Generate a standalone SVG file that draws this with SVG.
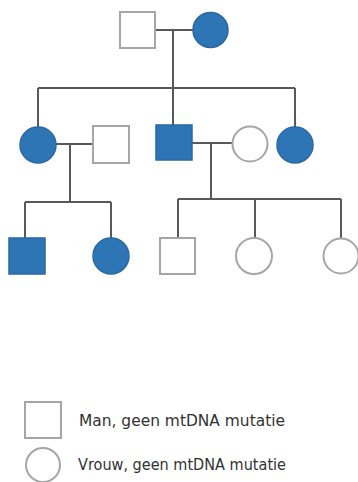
<svg xmlns="http://www.w3.org/2000/svg" width="358" height="482" viewBox="0 0 358 482">
<style>
.bg{fill:#ffffff}
.aff{fill:#2e75b6;stroke:#2a68a3;stroke-width:1.5}
.un{fill:#ffffff;stroke:#a6a6a6;stroke-width:2}
.ln{fill:none;stroke:#595959;stroke-width:2}
.lbl{font-family:"DejaVu Sans","Liberation Sans",sans-serif;font-size:15px;fill:#333333}
</style>
<rect class="bg" x="0" y="0" width="358" height="482"/>
<g id="connectors">
<path class="ln" d="M155 30H193"/>
<path class="ln" d="M173 30V88"/>
<path class="ln" d="M38 88H295"/>
<path class="ln" d="M38 88V127"/>
<path class="ln" d="M173 88V125"/>
<path class="ln" d="M295 88V127"/>
<path class="ln" d="M56 144H93"/>
<path class="ln" d="M70 144V202"/>
<path class="ln" d="M25 202H111"/>
<path class="ln" d="M25 202V238"/>
<path class="ln" d="M111 202V238"/>
<path class="ln" d="M192 143H232"/>
<path class="ln" d="M211 143V199"/>
<path class="ln" d="M178 199H341"/>
<path class="ln" d="M178 199V238"/>
<path class="ln" d="M255 199V238"/>
<path class="ln" d="M341 199V238"/>
</g>
<g id="gen1-father"><rect class="un" x="120" y="12" width="35" height="36"/></g>
<g id="gen1-mother"><circle class="aff" cx="210.5" cy="30" r="17.5"/></g>
<g id="gen2-daughter1"><circle class="aff" cx="38" cy="145" r="18"/></g>
<g id="gen2-husband1"><rect class="un" x="93" y="126" width="36" height="37"/></g>
<g id="gen2-son"><rect class="aff" x="156" y="125" width="36" height="35"/></g>
<g id="gen2-wife"><circle class="un" cx="250" cy="144" r="17.5"/></g>
<g id="gen2-daughter2"><circle class="aff" cx="295" cy="145" r="18"/></g>
<g id="gen3-son1"><rect class="aff" x="9" y="238" width="36" height="36"/></g>
<g id="gen3-daughter1"><circle class="aff" cx="111" cy="256" r="18"/></g>
<g id="gen3-son2"><rect class="un" x="160" y="238" width="35" height="36"/></g>
<g id="gen3-daughter2"><circle class="un" cx="254" cy="256" r="18"/></g>
<g id="gen3-daughter3"><circle class="un" cx="341" cy="256" r="17.5"/></g>
<g id="legend-man">
<rect class="un" x="25" y="402" width="36" height="36"/>
<text class="lbl" x="79" y="426" textLength="206" lengthAdjust="spacingAndGlyphs">Man, geen mtDNA mutatie</text>
</g>
<g id="legend-vrouw">
<circle class="un" cx="43" cy="465" r="17"/>
<text class="lbl" x="78" y="470" textLength="208" lengthAdjust="spacingAndGlyphs">Vrouw, geen mtDNA mutatie</text>
</g>
</svg>
